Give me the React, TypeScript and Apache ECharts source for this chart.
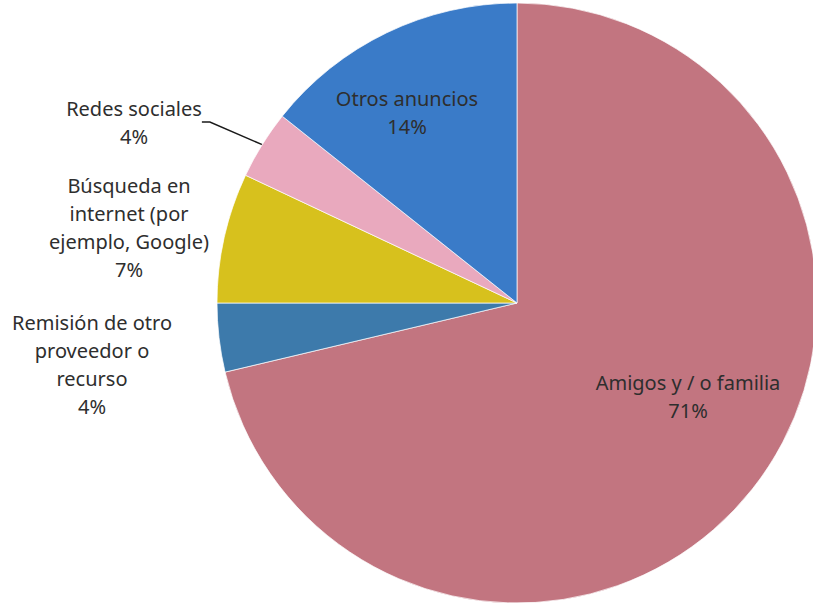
import React, { useEffect, useRef } from "react";
import * as echarts from "echarts";

const categories = [
  "Amigos y / o familia",
  "Remisión de otro\nproveedor o\nrecurso",
  "Búsqueda en\ninternet (por\nejemplo, Google)",
  "Redes sociales",
  "Otros anuncios",
];
const values = [71.3, 3.7, 7.0, 3.7, 14.3];

const colors = ["#c27580", "#3d7aab", "#d7c11d", "#e9a9be", "#3a7bc8"];
const labelAnchors: number[][] = [
  [688, 396],
  [92, 364],
  [129, 227],
  [134, 122],
  [407, 112],
];
const showLine = [false, false, false, true, false];

export default function App() {
  const ref = useRef<HTMLDivElement>(null);
  useEffect(() => {
    document.body.style.margin = "0";
    const chart = echarts.init(ref.current!, null, { renderer: "svg" });
    chart.setOption({
      animation: false,
      series: [
        {
          type: "pie",
          center: [517, 303],
          radius: 300,
          startAngle: 90,
          clockwise: true,
          avoidLabelOverlap: false,
          percentPrecision: 0,
          itemStyle: { borderColor: "rgba(255,255,255,0.7)", borderWidth: 1 },
          label: {
            show: true,
            position: "outside",
            formatter: "{b}\n{d}%",
            fontFamily: "'Noto Sans', sans-serif",
            fontSize: 20,
            lineHeight: 28,
            color: "#2e2e2e",
            align: "center",
          },
          labelLine: { show: false },
          labelLayout: (p: any) => ({
            x: labelAnchors[p.dataIndex][0],
            y: labelAnchors[p.dataIndex][1],
            align: "center",
            verticalAlign: "middle",
          }),
          data: categories.map((name, i) => ({
            name,
            value: values[i],
            itemStyle: { color: colors[i] },
            labelLine: {
              show: showLine[i],
              length: 40,
              length2: 8,
              smooth: false,
              lineStyle: { color: "#1a1a1a", width: 1.5 },
            },
          })),
        },
      ],
    });
    return () => chart.dispose();
  }, []);
  return <div ref={ref} style={{ width: 813, height: 605 }} />;
}
